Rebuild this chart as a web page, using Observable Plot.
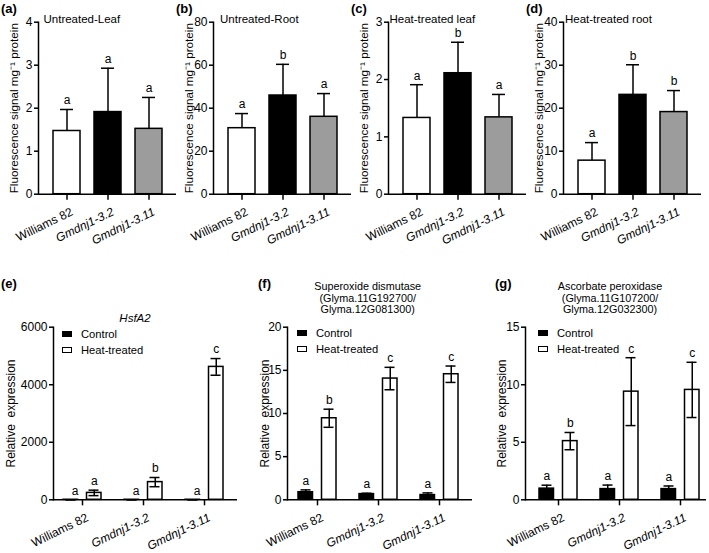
<!DOCTYPE html>
<html><head><meta charset="utf-8">
<script src="https://cdn.jsdelivr.net/npm/d3@7"></script>
<script src="https://cdn.jsdelivr.net/npm/@observablehq/plot@0.6"></script>
<style>
body{margin:0;background:#fff;}
#fig{position:relative;width:709px;height:553px;font-family:"Liberation Sans",Arial,sans-serif;color:#000;overflow:hidden;background:#fff;}
.panel{position:absolute;}
.lab{position:absolute;font-weight:bold;font-size:13px;line-height:14px;}
.ttl{position:absolute;font-size:11.5px;line-height:14px;white-space:nowrap;}
.ttl3{position:absolute;font-size:10.8px;line-height:11.2px;text-align:center;white-space:nowrap;}
.legend{position:absolute;font-size:11.2px;line-height:16.3px;white-space:nowrap;}
.sw{display:inline-block;width:10px;height:6px;box-sizing:border-box;border:1.5px solid #000;margin-right:9px;vertical-align:middle;position:relative;top:-1px;}
</style></head><body><div id="fig"></div><script>
// ---------- data ----------
const genotypes = ["Williams 82", "Gmdnj1-3.2", "Gmdnj1-3.11"];
const genotypeFills = ["white", "black", "#9c9c9c"];

// (a) Untreated-Leaf
const aMean = [1.47, 1.91, 1.52];
const aErr = [0.50, 1.02, 0.73];
const aLetters = ["a", "a", "a"];
const aTicks = [0, 1, 2, 3, 4];
// (b) Untreated-Root
const bMean = [30.7, 45.9, 36.0];
const bErr = [6.8, 14.5, 10.8];
const bLetters = ["a", "b", "a"];
const bTicks = [0, 20, 40, 60, 80];
// (c) Heat-treated leaf
const cMean = [1.33, 2.11, 1.34];
const cErr = [0.58, 0.54, 0.40];
const cLetters = ["a", "b", "a"];
const cTicks = [0, 1, 2, 3];
// (d) Heat-treated root
const dMean = [7.8, 23.1, 19.1];
const dErr = [4.2, 7.0, 5.0];
const dLetters = ["a", "b", "b"];
const dTicks = [0, 10, 20, 30, 40];

// (e) HsfA2
const eCtrl = [1, 1, 1];
const eCtrlErr = [0.2, 0.2, 0.2];
const eHeat = [240, 615, 4620];
const eHeatErr = [95, 160, 290];
const eCtrlLetters = ["a", "a", "a"];
const eHeatLetters = ["a", "b", "c"];
const eTicks = [0, 2000, 4000, 6000];
// (f) Superoxide dismutase
const fCtrl = [0.88, 0.66, 0.55];
const fCtrlErr = [0.27, 0.10, 0.25];
const fHeat = [9.45, 14.05, 14.55];
const fHeatErr = [1.05, 1.30, 0.95];
const fCtrlLetters = ["a", "a", "a"];
const fHeatLetters = ["b", "c", "c"];
const fTicks = [0, 5, 10, 15, 20];
// (g) Ascorbate peroxidase
const gCtrl = [0.97, 0.93, 0.93];
const gCtrlErr = [0.30, 0.35, 0.27];
const gHeat = [5.1, 9.4, 9.55];
const gHeatErr = [0.75, 2.95, 2.4];
const gCtrlLetters = ["a", "a", "a"];
const gHeatLetters = ["b", "c", "c"];
const gTicks = [0, 5, 10, 15];

const treatments = ["Control", "Heat-treated"];
const fontFamily = '"Liberation Sans", Arial, sans-serif';
const fig = document.getElementById("fig");

function place(node, left, top) {
  node.classList.add("panel");
  node.style.left = left + "px";
  node.style.top = top + "px";
  fig.appendChild(node);
}
function html(cls, left, top, content, extra) {
  const d = document.createElement("div");
  d.className = cls;
  d.style.left = left + "px";
  d.style.top = top + "px";
  if (extra) Object.assign(d.style, extra);
  d.innerHTML = content;
  fig.appendChild(d);
  return d;
}
function italicize(svg) {
  d3.select(svg).selectAll('g[aria-label="x-axis tick label"] text')
    .filter(function () { return this.textContent.startsWith("Gmdnj"); })
    .attr("font-style", "italic");
}
const baseStyle = {background: "transparent", fontFamily, fontSize: "11.5px", color: "black", overflow: "visible"};
const intFmt = d3.format("d");

function xAxes() {
  return [
    Plot.axisX({tickSize: 6, tickFormat: () => "", label: null, strokeWidth: 1.5}),
    Plot.axisX({tickSize: 0, tickPadding: 17, tickRotate: -26, dx: 5, label: null, fontSize: 12})
  ];
}

function topPanel(mean, err, letters, ticks, left) {
  const rows = genotypes.map((g, i) => ({g, v: mean[i], hi: mean[i] + err[i], letter: letters[i]}));
  const svg = Plot.plot({
    width: 178, height: 260,
    marginLeft: 38, marginRight: 2, marginTop: 21.7, marginBottom: 66.3,
    style: baseStyle,
    x: {domain: genotypes, paddingInner: 0.35, paddingOuter: 0.34, label: null},
    y: {domain: [0, d3.max(ticks)], label: null},
    color: {domain: genotypes, range: genotypeFills},
    marks: [
      Plot.barY(rows, {x: "g", y: "v", fill: "g", stroke: "black", strokeWidth: 1.5}),
      Plot.ruleX(rows, {x: "g", y1: "v", y2: "hi", stroke: "black", strokeWidth: 1.5}),
      Plot.tickY(rows, {x: "g", y: "hi", stroke: "black", strokeWidth: 1.5, insetLeft: 7, insetRight: 7}),
      Plot.text(rows, {x: "g", y: "hi", text: "letter", dy: -9, fontSize: 12}),
      Plot.ruleY([0], {stroke: "black", strokeWidth: 1.5}),
      Plot.frame({anchor: "left", stroke: "black", strokeWidth: 1.5}),
      Plot.axisY({ticks, tickFormat: intFmt, tickSize: 4, tickPadding: 2, label: null, strokeWidth: 1.5, fontSize: 12}),
      ...xAxes(),
      Plot.text(["Fluorescence signal mg⁻¹ protein"], {text: d => d, frameAnchor: "left", rotate: -90, dx: -24, textAnchor: "middle", lineAnchor: "middle", fontSize: 11.7})
    ]
  });
  italicize(svg);
  place(svg, left, 0);
}

function bottomPanel(ctrl, ctrlErr, heat, heatErr, ctrlLetters, heatLetters, ticks, left, marginLeft, plotW, po, align, ctrlTextDx, ylabDx) {
  const mk = (vals, errs, lets) => genotypes.map((g, i) => ({g, v: vals[i], lo: vals[i] - errs[i], hi: vals[i] + errs[i], letter: lets[i]}));
  const cRows = mk(ctrl, ctrlErr, ctrlLetters);
  const hRows = mk(heat, heatErr, heatLetters);
  const half = 11.75;
  const svg = Plot.plot({
    width: marginLeft + plotW + 2, height: 273,
    marginLeft, marginRight: 2, marginTop: 46.7, marginBottom: 53.7,
    style: baseStyle,
    x: {domain: genotypes, paddingInner: 0.384, paddingOuter: po, align, label: null},
    y: {domain: [0, d3.max(ticks)], label: null},
    marks: [
      Plot.barY(cRows, {x: "g", y: "v", fill: "black", stroke: "black", strokeWidth: 1.5, insetRight: 23.5}),
      Plot.barY(hRows, {x: "g", y: "v", fill: "white", stroke: "black", strokeWidth: 1.5, insetLeft: 23.5}),
      Plot.ruleX(cRows, {x: "g", y1: "lo", y2: "hi", dx: -half, stroke: "black", strokeWidth: 1.5}),
      Plot.ruleX(hRows, {x: "g", y1: "lo", y2: "hi", dx: half, stroke: "black", strokeWidth: 1.5}),
      Plot.tickY(cRows, {x: "g", y: "hi", insetLeft: 2.5, insetRight: 25.5, stroke: "black", strokeWidth: 1.5}),
      Plot.tickY(cRows, {x: "g", y: "lo", insetLeft: 2.5, insetRight: 25.5, stroke: "black", strokeWidth: 1.5}),
      Plot.tickY(hRows, {x: "g", y: "hi", insetLeft: 25.5, insetRight: 2.5, stroke: "black", strokeWidth: 1.5}),
      Plot.tickY(hRows, {x: "g", y: "lo", insetLeft: 25.5, insetRight: 2.5, stroke: "black", strokeWidth: 1.5}),
      Plot.text(cRows, {x: "g", y: "hi", text: "letter", dx: ctrlTextDx, dy: -9, fontSize: 12}),
      Plot.text(hRows, {x: "g", y: "hi", text: "letter", dx: half, dy: -9, fontSize: 12}),
      Plot.ruleY([0], {stroke: "black", strokeWidth: 1.5}),
      Plot.frame({anchor: "left", stroke: "black", strokeWidth: 1.5}),
      Plot.axisY({ticks, tickFormat: intFmt, tickSize: 4, tickPadding: 2, label: null, strokeWidth: 1.5, fontSize: 12}),
      ...xAxes(),
      Plot.text(["Relative  expression"], {text: d => d, frameAnchor: "left", rotate: -90, dx: ylabDx, textAnchor: "middle", lineAnchor: "middle", fontSize: 12})
    ]
  });
  italicize(svg);
  place(svg, left, 280);
}

// ---------- top row ----------
topPanel(aMean, aErr, aLetters, aTicks, 0);
topPanel(bMean, bErr, bLetters, bTicks, 175);
topPanel(cMean, cErr, cLetters, cTicks, 350);
topPanel(dMean, dErr, dLetters, dTicks, 525);

// ---------- bottom row ----------
bottomPanel(eCtrl, eCtrlErr, eHeat, eHeatErr, eCtrlLetters, eHeatLetters, eTicks, 0, 53, 184, 0.183, 0.4, -7.5, -42.5);
bottomPanel(fCtrl, fCtrlErr, fHeat, fHeatErr, fCtrlLetters, fHeatLetters, fTicks, 235, 52, 185, 0.191, 0.42, -11.75, -22);
bottomPanel(gCtrl, gCtrlErr, gHeat, gHeatErr, gCtrlLetters, gHeatLetters, gTicks, 470, 55, 181, 0.159, 0.66, -11.75, -23.5);

// ---------- panel letters & titles ----------
[["(a)", 1, 2], ["(b)", 176, 2], ["(c)", 351, 2], ["(d)", 526, 2], ["(e)", 1, 277], ["(f)", 258, 277], ["(g)", 495, 277]]
  .forEach(([t, x, y]) => html("lab", x, y, t));
html("ttl", 43.5, 11.5, "Untreated-Leaf");
html("ttl", 220, 11.5, "Untreated-Root");
html("ttl", 389.5, 11.5, "Heat-treated leaf");
html("ttl", 565, 11.5, "Heat-treated root");
html("ttl", 85, 311, "<i>HsfA2</i>", {width: "100px", textAlign: "center"});
html("ttl3", 287.7, 281.4, "Superoxide dismutase<br>(Glyma.11G192700/<br>Glyma.12G081300)", {width: "160px"});
html("ttl3", 530, 281.4, "Ascorbate peroxidase<br>(Glyma.11G107200/<br>Glyma.12G032300)", {width: "160px"});

// ---------- legends ----------
const legendHTML = `<div><span class="sw" style="background:#000"></span>${treatments[0]}</div><div><span class="sw" style="background:#fff"></span>${treatments[1]}</div>`;
html("legend", 62, 326, legendHTML);
html("legend", 297, 325, legendHTML);
html("legend", 538, 324.5, legendHTML);
</script></body></html>
